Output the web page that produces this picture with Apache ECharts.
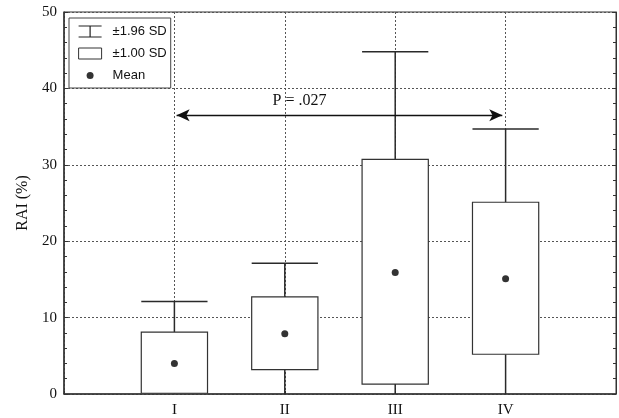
<!DOCTYPE html>
<html><head><meta charset="utf-8">
<script src="https://cdn.jsdelivr.net/npm/echarts@6/dist/echarts.min.js"></script>
<style>html,body{margin:0;padding:0;background:#fff}#c{width:619px;height:418px}</style>
</head><body><div id="c"></div>
<script>
// ---- data ----
const groups = ['I', 'II', 'III', 'IV'];
const groupPos = [1, 2, 3, 4];
const means = [4.0, 7.9, 15.9, 15.1];
const sd1Low = [0.1, 3.2, 1.3, 5.2];
const sd1High = [8.1, 12.7, 30.7, 25.1];
const sd196Low = [-3.8, -1.3, -12.8, -4.6];
const sd196High = [12.1, 17.1, 44.8, 34.7];
const yTickValues = [0, 10, 20, 30, 40, 50];
const legendNames = ['±1.96 SD', '±1.00 SD', 'Mean'];
const pArrowFrom = 1.02, pArrowTo = 3.97, pArrowY = 36.5, pLabel = 'P = .027';

const BOX_W = 0.6;
const LINE = '#2a2a2a';
const SERIF = '"Liberation Serif","DejaVu Serif",serif';
const SANS = '"Liberation Sans",Arial,sans-serif';

const rows = groupPos.map((x, i) => [x, sd196Low[i], sd1Low[i], sd1High[i], sd196High[i]]);

function renderWhisker(params, api) {
  const x = api.value(0), lo = api.value(1), bLo = api.value(2), bHi = api.value(3), hi = api.value(4);
  const pHi = api.coord([x, hi]), pBHi = api.coord([x, bHi]), pBLo = api.coord([x, bLo]), pLo = api.coord([x, lo]);
  const hw = api.size([BOX_W, 0])[0] / 2;
  const st = { stroke: LINE, lineWidth: 1.5 };
  return { type: 'group', children: [
    { type: 'line', shape: { x1: pHi[0], y1: pHi[1], x2: pBHi[0], y2: pBHi[1] }, style: st },
    { type: 'line', shape: { x1: pHi[0] - hw, y1: pHi[1], x2: pHi[0] + hw, y2: pHi[1] }, style: st },
    { type: 'line', shape: { x1: pLo[0], y1: pLo[1], x2: pBLo[0], y2: pBLo[1] }, style: st },
    { type: 'line', shape: { x1: pLo[0] - hw, y1: pLo[1], x2: pLo[0] + hw, y2: pLo[1] }, style: st }
  ]};
}
function renderBox(params, api) {
  const x = api.value(0), bLo = api.value(2), bHi = api.value(3);
  const pHi = api.coord([x, bHi]), pLo = api.coord([x, bLo]);
  const hw = api.size([BOX_W, 0])[0] / 2;
  return { type: 'rect', shape: { x: pHi[0] - hw, y: pHi[1], width: hw * 2, height: pLo[1] - pHi[1] },
    style: { fill: '#fff', stroke: '#333', lineWidth: 1.2 } };
}

const chart = echarts.init(document.getElementById('c'), null, { renderer: 'canvas' });
chart.setOption({
  animation: false,
  backgroundColor: '#fff',
  grid: { left: 64, right: 2, top: 12, bottom: 21, show: true, borderColor: '#333', borderWidth: 1, backgroundColor: 'transparent' },
  legend: {
    orient: 'vertical', left: 69, top: 18,
    padding: [7, 4, 6, 9], itemGap: 9, itemWidth: 23, itemHeight: 11,
    borderColor: '#444', borderWidth: 1, backgroundColor: '#fff',
    selectedMode: false,
    textStyle: { fontFamily: SANS, fontSize: 13, color: '#111', padding: [0, 0, 0, 6] },
    data: [
      { name: legendNames[0], icon: 'path://M0 0L23 0M11.5 0L11.5 11M0 11L23 11', itemStyle: { color: 'transparent', borderColor: '#222', borderWidth: 1.2 } },
      { name: legendNames[1], icon: 'rect', itemStyle: { color: '#fff', borderColor: '#333', borderWidth: 1 } },
      { name: legendNames[2], icon: 'path://M0 0L0 0M23 11L23 11M15 5.5A3.5 3.5 0 1 1 8 5.5A3.5 3.5 0 1 1 15 5.5Z', itemStyle: { color: '#000', borderWidth: 0 } }
    ]
  },
  xAxis: {
    type: 'value', min: 0, max: 5, interval: 1,
    axisLine: { show: true, lineStyle: { color: '#333', width: 1.5 } },
    axisTick: { show: true, inside: true, length: 3, lineStyle: { color: '#333' } },
    axisLabel: { fontFamily: SERIF, fontSize: 15, color: '#111', margin: 9,
      formatter: v => { const i = groupPos.indexOf(v); return i >= 0 ? groups[i] : ''; } },
    splitLine: { show: true, lineStyle: { color: '#555', type: [2, 2], width: 1 } }
  },
  yAxis: [{
    type: 'value', min: yTickValues[0], max: yTickValues[yTickValues.length - 1], interval: 10,
    name: 'RAI (%)', nameLocation: 'middle', nameGap: 33,
    nameTextStyle: { fontFamily: SERIF, fontSize: 16, color: '#111' },
    axisLine: { show: true, lineStyle: { color: '#333', width: 1.5 } },
    axisTick: { show: true, inside: true, length: 4, lineStyle: { color: '#333' } },
    minorTick: { show: true, splitNumber: 5, length: 3, lineStyle: { color: '#333' } },
    axisLabel: { fontFamily: SERIF, fontSize: 15, color: '#111', margin: 7 },
    splitLine: { show: true, lineStyle: { color: '#555', type: [2, 2], width: 1 } }
  }, {
    type: 'value', position: 'right', min: 0, max: 50, interval: 10,
    axisLine: { show: true, lineStyle: { color: '#333', width: 1 } },
    axisTick: { show: true, inside: true, length: 4, lineStyle: { color: '#333' } },
    minorTick: { show: true, splitNumber: 5, length: 3, lineStyle: { color: '#333' } },
    axisLabel: { show: false }, splitLine: { show: false }
  }],
  series: [
    { name: legendNames[0], type: 'custom', clip: true, renderItem: renderWhisker, data: rows, encode: { x: 0, y: [1, 4] }, z: 2 },
    { name: legendNames[1], type: 'custom', clip: true, renderItem: renderBox, data: rows, encode: { x: 0, y: [2, 3] }, z: 3 },
    { name: legendNames[2], type: 'scatter', symbol: 'circle', symbolSize: 7, itemStyle: { color: '#000' },
      data: groupPos.map((x, i) => [x, means[i]]), z: 4,
      markLine: {
        silent: true, symbol: ['arrow', 'arrow'], symbolSize: [9, 13],
        lineStyle: { color: '#111', width: 1.4, type: 'solid' },
        label: { show: true, position: 'middle', formatter: pLabel, fontFamily: SERIF, fontSize: 16, color: '#111', padding: [0, 80, 0, 0], distance: 6 },
        data: [[{ coord: [pArrowFrom, pArrowY] }, { coord: [pArrowTo, pArrowY] }]]
      }
    }
  ]
});
</script>
</body></html>
